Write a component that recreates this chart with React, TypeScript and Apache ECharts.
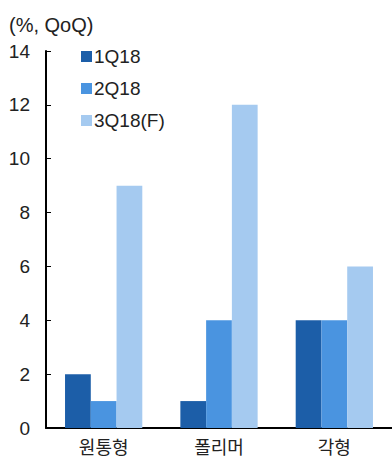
import React, { useEffect, useRef } from "react";
import * as echarts from "echarts";

const categories = ["원통형", "폴리머", "각형"];
const seriesNames = ["1Q18", "2Q18", "3Q18(F)"];
const q1Values = [2, 1, 4];
const q2Values = [1, 4, 4];
const q3Values = [9, 12, 6];
const colors = ["#1C5EA8", "#4A94E0", "#A5CAF0"];
const unitLabel = "(%, QoQ)";

const FONT = "'Liberation Sans', 'Noto Sans CJK KR', sans-serif";

export default function App() {
  const ref = useRef<HTMLDivElement>(null);

  useEffect(() => {
    if (!ref.current) return;
    const chart = echarts.init(ref.current, null, { renderer: "svg" });
    const values = [q1Values, q2Values, q3Values];
    chart.setOption({
      animation: false,
      backgroundColor: "#ffffff",
      textStyle: { fontFamily: FONT },
      graphic: [
        {
          type: "text",
          left: 9,
          top: 15,
          style: { text: unitLabel, fontSize: 20, fill: "#222", fontFamily: FONT },
        },
      ],
      legend: {
        orient: "vertical",
        left: 76,
        top: 42,
        itemWidth: 11,
        itemHeight: 11,
        itemGap: 13,
        icon: "rect",
        data: seriesNames,
        textStyle: { fontSize: 19, color: "#222", fontFamily: FONT, padding: [0, 0, 0, -3] },
      },
      grid: { left: 46, right: -3, top: 51, bottom: 31, containLabel: false },
      xAxis: {
        type: "category",
        data: categories,
        axisLine: { lineStyle: { color: "#000", width: 2 } },
        axisTick: { inside: true, length: 5, lineStyle: { color: "#000", width: 1 } },
        axisLabel: { fontSize: 18, color: "#222", margin: 11, fontFamily: FONT },
      },
      yAxis: {
        type: "value",
        min: 0,
        max: 14,
        interval: 2,
        axisLine: { show: true, lineStyle: { color: "#000", width: 2 } },
        axisTick: { show: true, inside: true, length: 5, lineStyle: { color: "#000", width: 1 } },
        splitLine: { show: false },
        axisLabel: { fontSize: 19, color: "#222", margin: 16, fontFamily: FONT },
      },
      series: seriesNames.map((name, i) => ({
        name,
        type: "bar",
        data: values[i],
        barGap: "0%",
        barCategoryGap: "33%",
        itemStyle: { color: colors[i] },
      })),
    });
    return () => chart.dispose();
  }, []);

  return (
    <div
      ref={ref}
      style={{ position: "fixed", left: 0, top: 0, width: 392, height: 459 }}
    />
  );
}
